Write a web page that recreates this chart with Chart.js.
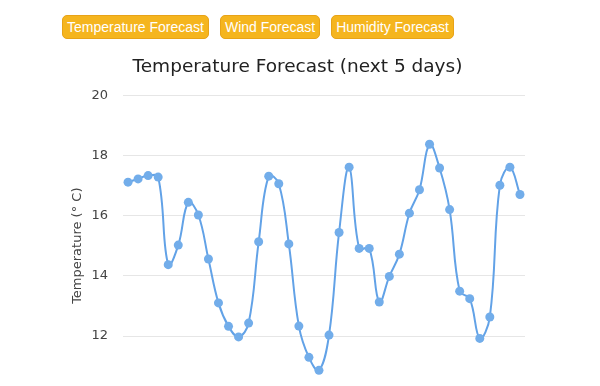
<!DOCTYPE html>
<html>
<head>
<meta charset="utf-8">
<script src="https://cdn.jsdelivr.net/npm/chart.js@4"></script>
<style>
  html, body { margin: 0; padding: 0; background: #fff; overflow: hidden; }
  #buttons { position: absolute; top: 15px; left: 62px; }
  .btn {
    display: inline-block;
    height: 24px;
    line-height: 23px;
    padding: 0 4px;
    margin-right: 11px;
    box-sizing: border-box;
    background: #f5b51e;
    border: 1px solid #e8a317;
    border-radius: 5px;
    color: #fff;
    font-family: "Liberation Sans", Arial, sans-serif;
    font-size: 14px;
  }
  #chart-container { position: absolute; top: 47px; left: 0; width: 600px; height: 372px; }
</style>
</head>
<body>
<div id="buttons">
  <span class="btn">Temperature Forecast</span><span class="btn">Wind Forecast</span><span class="btn">Humidity Forecast</span>
</div>
<div id="chart-container"><canvas id="chart"></canvas></div>
<script>
// 3-hourly forecast slots over 5 days
const timeLabels = [
  "00:00", "03:00", "06:00", "09:00", "12:00", "15:00", "18:00", "21:00",
  "00:00", "03:00", "06:00", "09:00", "12:00", "15:00", "18:00", "21:00",
  "00:00", "03:00", "06:00", "09:00", "12:00", "15:00", "18:00", "21:00",
  "00:00", "03:00", "06:00", "09:00", "12:00", "15:00", "18:00", "21:00",
  "00:00", "03:00", "06:00", "09:00", "12:00", "15:00", "18:00", "21:00"
];

const temperatures = [
  17.11, 17.22, 17.33, 17.28, 14.37, 15.02, 16.44, 16.02, 14.56, 13.10,
  12.32, 11.97, 12.43, 15.13, 17.31, 17.06, 15.06, 12.33, 11.29, 10.86,
  12.03, 15.44, 17.61, 14.91, 14.91, 13.13, 13.98, 14.72, 16.08, 16.86,
  18.37, 17.58, 16.20, 13.49, 13.24, 11.92, 12.63, 17.01, 17.61, 16.70
];

const yTicks = [10, 12, 14, 16, 18, 20];

const ctx = document.getElementById("chart").getContext("2d");

const chart = new Chart(ctx, {
  type: "line",
  data: {
    labels: timeLabels,
    datasets: [
      {
        label: "Temperature",
        data: temperatures,
        borderColor: "#62a2e7",
        backgroundColor: "#72adea",
        borderWidth: 2,
        pointRadius: 4.5,
        pointBorderWidth: 0,
        tension: 0.4,
      },
    ],
  },
  options: {
    responsive: true,
    maintainAspectRatio: false,
    animation: false,
    layout: { padding: { left: 70, right: 75, top: 0, bottom: 0 } },
    plugins: {
      legend: { display: false },
      tooltip: { enabled: false },
      title: {
        display: true,
        text: "Temperature Forecast (next 5 days)",
        color: "#222",
        font: { family: "DejaVu Sans", size: 18.5, weight: "normal" },
        padding: { top: 9, bottom: 17 },
      },
    },
    scales: {
      x: {
        offset: true,
        grid: { display: false },
        border: { display: false },
        ticks: { display: false },
      },
      y: {
        min: yTicks[0],
        max: yTicks[yTicks.length - 1],
        afterBuildTicks: (axis) => {
          axis.ticks = yTicks.map((v) => ({ value: v }));
        },
        // keep the axis narrow so the title stays centred on the page
        afterFit: (axis) => {
          axis.width = 53;
        },
        grid: { color: "#e6e6e6", lineWidth: 1, drawTicks: false },
        border: { display: false },
        ticks: {
          padding: 15,
          color: "#444",
          font: { family: "DejaVu Sans", size: 13 },
        },
        title: {
          display: true,
          text: "Temperature (° C)",
          color: "#444",
          font: { family: "DejaVu Sans", size: 13 },
          padding: { top: 0, bottom: 0 },
        },
      },
    },
  },
});
</script>
</body>
</html>
